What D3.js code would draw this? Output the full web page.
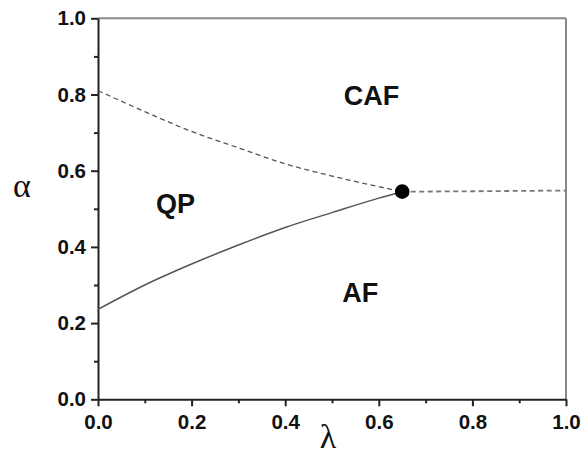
<!DOCTYPE html>
<html>
<head>
<meta charset="utf-8">
<script src="https://cdn.jsdelivr.net/npm/d3@7"></script>
<style>
    body { margin: 0; background: #fff; }
    .tick text { font-family: "Liberation Sans", Arial, sans-serif; font-weight: bold; font-size: 20.5px; fill: #111; }
    .axis path, .axis line { stroke: #222; stroke-width: 2; }
    .minor path { display: none; }
    .minor line { stroke: #222; stroke-width: 2; }
    .region { font-family: "Liberation Sans", Arial, sans-serif; font-weight: bold; font-size: 27px; fill: #111; }
    .greek { font-family: "Liberation Serif", "Times New Roman", serif; font-size: 34px; fill: #111; }
</style>
</head>
<body>
<div id="chart"></div>
<script>
// phase boundaries
const lowerLambda = [0, 0.1, 0.2, 0.3, 0.4, 0.5, 0.6, 0.65];
const lowerAlpha  = [0.236, 0.300, 0.355, 0.405, 0.451, 0.490, 0.528, 0.545];

const upperLambda = [0, 0.1, 0.2, 0.3, 0.4, 0.5, 0.6, 0.65];
const upperAlpha  = [0.810, 0.755, 0.703, 0.660, 0.618, 0.586, 0.558, 0.545];

const rightLambda = [0.65, 0.8, 1.0];
const rightAlpha  = [0.545, 0.546, 0.548];

const pointLambda = [0.65];
const pointAlpha  = [0.545];

const majorTicks = [0, 0.2, 0.4, 0.6, 0.8, 1.0];
const minorTicks = [0.1, 0.3, 0.5, 0.7, 0.9];

const regionNames  = ['CAF', 'QP', 'AF'];
const regionLambda = [0.525, 0.124, 0.522];
const regionAlpha  = [0.772, 0.490, 0.256];

const width = 583, height = 457;
let margin = { top: 18.3, right: 17, bottom: 57.7, left: 98 };
let plotWidth = width - margin.left - margin.right;
let plotHeight = height - margin.top - margin.bottom;

var svg = d3.select("#chart").append("svg")
    .attr("width", width)
    .attr("height", height)
    .style("display", "block");

var plot = svg.append("g")
    .attr("transform", "translate(" + margin.left + "," + margin.top + ")");

var xScale = d3.scaleLinear().domain([0, 1]).range([0, plotWidth]);
var yScale = d3.scaleLinear().domain([0, 1]).range([plotHeight, 0]);

function zip(xs, ys) {
    return xs.map((x, i) => ({ x: x, y: ys[i] }));
}

// frame top / right in grey
plot.append("line")
    .attr("x1", 0).attr("x2", plotWidth).attr("y1", 0).attr("y2", 0)
    .attr("stroke", "#888").attr("stroke-width", 2);
plot.append("line")
    .attr("x1", plotWidth).attr("x2", plotWidth).attr("y1", 0).attr("y2", plotHeight)
    .attr("stroke", "#888").attr("stroke-width", 2);

// minor ticks
plot.append("g").attr("class", "minor")
    .attr("transform", "translate(0," + plotHeight + ")")
    .call(d3.axisBottom(xScale).tickValues(minorTicks).tickSize(4).tickFormat(""));
plot.append("g").attr("class", "minor")
    .call(d3.axisLeft(yScale).tickValues(minorTicks).tickSize(4).tickFormat(""));

// major axes
plot.append("g").attr("class", "axis")
    .attr("transform", "translate(0," + plotHeight + ")")
    .call(d3.axisBottom(xScale).tickValues(majorTicks).tickSize(7).tickPadding(8)
        .tickSizeOuter(0).tickFormat(d3.format(".1f")));
plot.append("g").attr("class", "axis")
    .call(d3.axisLeft(yScale).tickValues(majorTicks).tickSize(7).tickPadding(5)
        .tickSizeOuter(0).tickFormat(d3.format(".1f")));

var line = d3.line()
    .x(d => xScale(d.x))
    .y(d => yScale(d.y))
    .curve(d3.curveMonotoneX);

plot.append("path")
    .datum(zip(lowerLambda, lowerAlpha))
    .attr("d", line)
    .attr("fill", "none")
    .attr("stroke", "#555")
    .attr("stroke-width", 1.5);

plot.append("path")
    .datum(zip(upperLambda, upperAlpha))
    .attr("d", line)
    .attr("fill", "none")
    .attr("stroke", "#555")
    .attr("stroke-width", 1.3)
    .attr("stroke-dasharray", "5,3.5");

plot.append("path")
    .datum(zip(rightLambda, rightAlpha))
    .attr("d", line)
    .attr("fill", "none")
    .attr("stroke", "#777")
    .attr("stroke-width", 1.8)
    .attr("stroke-dasharray", "5,3.5");

plot.selectAll("circle.pt")
    .data(zip(pointLambda, pointAlpha))
    .enter().append("circle")
    .attr("class", "pt")
    .attr("cx", d => xScale(d.x))
    .attr("cy", d => yScale(d.y))
    .attr("r", 7.3)
    .attr("fill", "#000");

plot.selectAll("text.region")
    .data(regionNames)
    .enter().append("text")
    .attr("class", "region")
    .attr("x", (d, i) => xScale(regionLambda[i]))
    .attr("y", (d, i) => yScale(regionAlpha[i]))
    .text(d => d);

// axis labels
svg.append("text")
    .attr("class", "greek")
    .attr("x", margin.left + plotWidth / 2 - 4)
    .attr("y", 448)
    .style("text-anchor", "middle")
    .text("λ");

svg.append("text")
    .attr("class", "greek")
    .attr("x", 22)
    .attr("y", 197)
    .style("text-anchor", "middle")
    .text("α");
</script>
</body>
</html>
